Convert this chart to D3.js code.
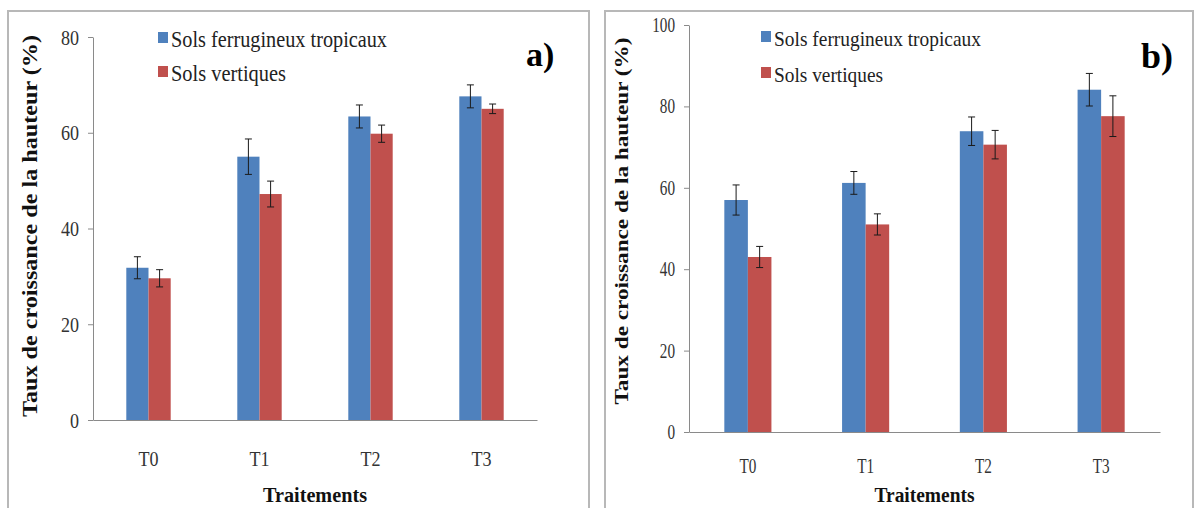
<!DOCTYPE html>
<html>
<head>
<meta charset="utf-8">
<script src="https://cdn.jsdelivr.net/npm/d3@7"></script>
<style>
  body { margin: 0; background: #fff; }
</style>
</head>
<body>
<svg id="chart" width="1197" height="508"></svg>
<script>
(function() {

  // categories and series
  var categories = ["T0", "T1", "T2", "T3"];
  var seriesNames = ["Sols ferrugineux tropicaux", "Sols vertiques"];

  // panel a) values (%) and error bars
  var aFerrugineux    = [31.8, 55.0, 63.4, 67.6];
  var aFerrugineuxErr = [2.3, 3.7, 2.4, 2.4];
  var aVertiques      = [29.6, 47.2, 59.8, 65.0];
  var aVertiquesErr   = [1.8, 2.7, 1.8, 1.0];
  var aTicks = [0, 20, 40, 60, 80];

  // panel b) values (%) and error bars
  var bFerrugineux    = [57.0, 61.2, 73.9, 84.1];
  var bFerrugineuxErr = [3.7, 2.8, 3.5, 4.0];
  var bVertiques      = [43.0, 51.0, 70.6, 77.6];
  var bVertiquesErr   = [2.6, 2.6, 3.5, 5.0];
  var bTicks = [0, 20, 40, 60, 80, 100];

  var yTitle = "Taux de croissance de la hauteur (%)";
  var xTitle = "Traitements";

  var colors = ["#4F81BD", "#C0504D"];
  var FONT = "'Liberation Serif', 'Times New Roman', Times, serif";

  var svg = d3.select("#chart").attr("font-family", FONT);

  // squeeze text horizontally (source picture uses a narrow Times)
  var squeeze = function(sel, k) {
    sel.each(function() {
      var w = this.getComputedTextLength();
      d3.select(this).attr("textLength", w * k).attr("lengthAdjust", "spacingAndGlyphs");
    });
  };

  var drawPanel = function(p) {
    // frame
    svg.append("rect")
      .attr("x", p.frame[0]).attr("y", p.frame[1])
      .attr("width", p.frame[2] - p.frame[0]).attr("height", p.frame[3] - p.frame[1])
      .attr("fill", "#fff").attr("stroke", "#b8b8b8").attr("stroke-width", 2);

    var x = d3.scaleBand().domain(categories).range([p.left, p.right]);
    var groupW = x.bandwidth() / 2.5;
    var xs = d3.scaleBand().domain(seriesNames).range([0, groupW]);
    var y = d3.scaleLinear().domain([0, p.max]).range([p.bottom, p.top]);

    // y axis
    var gy = svg.append("g")
      .attr("transform", "translate(" + p.left + ",0)")
      .call(d3.axisLeft(y).tickValues(p.ticks).tickSize(5).tickSizeOuter(0).tickPadding(p.tickPad));
    gy.attr("font-family", FONT).attr("font-size", p.tickFont);
    gy.select(".domain").attr("stroke", "#8a8a8a");
    gy.selectAll(".tick line").attr("stroke", "#8a8a8a");
    gy.selectAll(".tick text").attr("fill", "#333");
    squeeze(gy.selectAll(".tick text"), p.squeeze);

    // x axis
    var gx = svg.append("g")
      .attr("transform", "translate(0," + p.bottom + ")")
      .call(d3.axisBottom(x).tickSize(0).tickSizeOuter(0).tickPadding(p.catPad));
    gx.attr("font-family", FONT).attr("font-size", p.catFont);
    gx.select(".domain").attr("stroke", "#8a8a8a");
    gx.selectAll(".tick text").attr("fill", "#333");
    squeeze(gx.selectAll(".tick text"), p.squeeze);

    // bars + error bars
    p.series.forEach(function(vals, si) {
      var errs = p.errors[si];
      var rows = categories.map(function(c, i) { return { cat: c, v: vals[i], e: errs[i] }; });
      var g = svg.append("g").attr("class", "series");
      var off = function(d) { return x(d.cat) + (x.bandwidth() - groupW) / 2 + xs(seriesNames[si]); };

      g.selectAll("rect")
        .data(rows)
        .enter().append("rect")
          .attr("x", off)
          .attr("y", function(d) { return y(d.v); })
          .attr("width", xs.bandwidth())
          .attr("height", function(d) { return y(0) - y(d.v); })
          .attr("fill", colors[si]);

      var eb = g.selectAll(".err")
        .data(rows)
        .enter().append("g")
          .attr("class", "err")
          .attr("stroke", "#1a1a1a")
          .attr("stroke-width", 1);
      var cx = function(d) { return off(d) + xs.bandwidth() / 2; };
      eb.append("line")
        .attr("x1", cx).attr("x2", cx)
        .attr("y1", function(d) { return y(d.v + d.e); })
        .attr("y2", function(d) { return y(d.v - d.e); });
      [1, -1].forEach(function(sgn) {
        eb.append("line")
          .attr("x1", function(d) { return cx(d) - 3.5; })
          .attr("x2", function(d) { return cx(d) + 3.5; })
          .attr("y1", function(d) { return y(d.v + sgn * d.e); })
          .attr("y2", function(d) { return y(d.v + sgn * d.e); });
      });
    });

    // legend
    seriesNames.forEach(function(name, i) {
      var ly = p.legend[1] + i * p.legendStep;
      svg.append("rect")
        .attr("x", p.legend[0]).attr("y", ly - 15)
        .attr("width", 10).attr("height", 11)
        .attr("fill", colors[i]);
      svg.append("text")
        .attr("x", p.legend[0] + 13).attr("y", ly)
        .attr("font-family", FONT)
        .attr("font-size", p.legendFont)
        .attr("fill", "#222")
        .attr("textLength", p.legendLen[i]).attr("lengthAdjust", "spacingAndGlyphs")
        .text(name);
    });

    // panel letter
    svg.append("text")
      .attr("x", p.letter[0]).attr("y", p.letter[1])
      .attr("font-family", FONT)
      .attr("font-size", p.letterFont).attr("font-weight", "bold")
      .attr("fill", "#000")
      .text(p.label);

    // axis titles
    svg.append("text")
      .attr("transform", "translate(" + p.yTitle[0] + "," + p.yTitle[1] + ") rotate(-90)")
      .attr("text-anchor", "middle")
      .attr("font-family", FONT)
      .attr("font-size", p.titleFont).attr("font-weight", "bold")
      .attr("fill", "#111")
      .attr("textLength", p.yTitle[2]).attr("lengthAdjust", "spacingAndGlyphs")
      .text(yTitle);
    svg.append("text")
      .attr("x", (p.left + p.right) / 2).attr("y", p.xTitleY)
      .attr("text-anchor", "middle")
      .attr("font-family", FONT)
      .attr("font-size", p.titleFont + 1).attr("font-weight", "bold")
      .attr("fill", "#111")
      .attr("textLength", p.xTitleLen).attr("lengthAdjust", "spacingAndGlyphs")
      .text(xTitle);
  };

  drawPanel({
    label: "a)", frame: [8, 11, 589, 520],
    left: 93, right: 537, top: 37, bottom: 420, max: 80, ticks: aTicks,
    series: [aFerrugineux, aVertiques], errors: [aFerrugineuxErr, aVertiquesErr],
    tickFont: 22, tickPad: 9, catFont: 22, catPad: 30, squeeze: 0.82,
    legend: [158, 47], legendStep: 34, legendFont: 23, legendLen: [216, 115],
    letter: [526, 66], letterFont: 34,
    yTitle: [37, 226, 382], titleFont: 20, xTitleY: 502, xTitleLen: 104
  });

  drawPanel({
    label: "b)", frame: [605, 11, 1193, 520],
    left: 689, right: 1160, top: 25, bottom: 432, max: 100, ticks: bTicks,
    series: [bFerrugineux, bVertiques], errors: [bFerrugineuxErr, bVertiquesErr],
    tickFont: 20, tickPad: 9, catFont: 20, catPad: 27, squeeze: 0.76,
    legend: [761, 46], legendStep: 36, legendFont: 22, legendLen: [207, 109],
    letter: [1141, 68], letterFont: 36,
    yTitle: [628, 221, 367], titleFont: 19, xTitleY: 502, xTitleLen: 100
  });

}());
</script>
</body>
</html>
